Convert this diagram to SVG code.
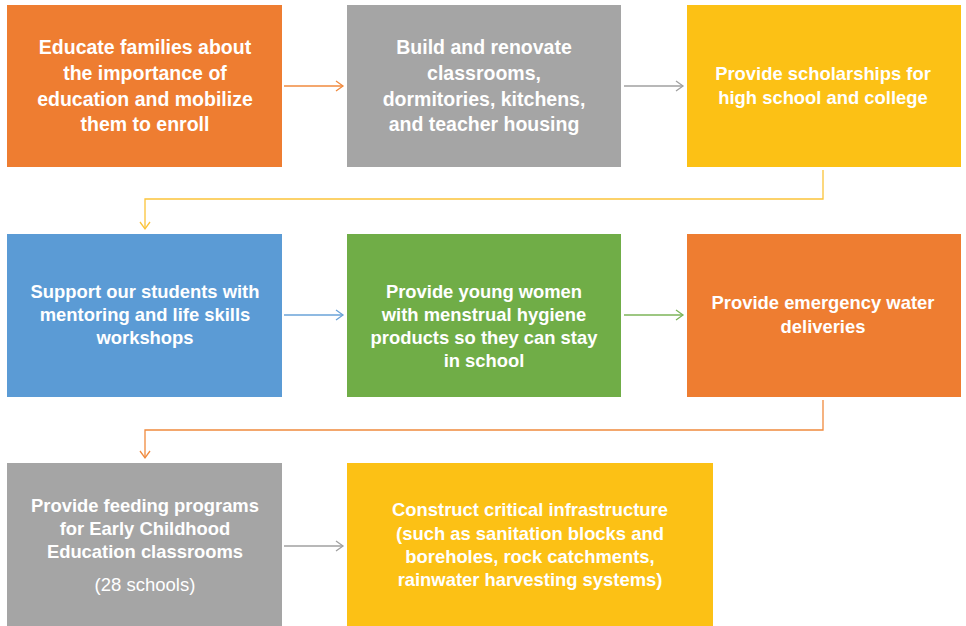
<svg xmlns="http://www.w3.org/2000/svg" width="966" height="626" viewBox="0 0 966 626">
<style>
.t{font-family:"Liberation Sans",Arial,sans-serif;font-weight:bold;fill:#fff;text-anchor:middle}
.r1{font-size:19.5px}
.r2{font-size:18.4px}
.n{font-family:"Liberation Sans",Arial,sans-serif;font-weight:normal;fill:#fff;text-anchor:middle;font-size:18.5px}
.c{fill:none;stroke-width:1.3}
</style>
<defs>
<marker id="ao" markerWidth="12" markerHeight="12" refX="10" refY="6" orient="auto" markerUnits="userSpaceOnUse"><path d="M3,1 L10,6 L3,11" fill="none" stroke="#F08A3E" stroke-width="1.3"/></marker>
<marker id="ag" markerWidth="12" markerHeight="12" refX="10" refY="6" orient="auto" markerUnits="userSpaceOnUse"><path d="M3,1 L10,6 L3,11" fill="none" stroke="#A0A0A0" stroke-width="1.3"/></marker>
<marker id="ay" markerWidth="12" markerHeight="12" refX="10" refY="6" orient="auto" markerUnits="userSpaceOnUse"><path d="M3,1 L10,6 L3,11" fill="none" stroke="#FBC43A" stroke-width="1.3"/></marker>
<marker id="ab" markerWidth="12" markerHeight="12" refX="10" refY="6" orient="auto" markerUnits="userSpaceOnUse"><path d="M3,1 L10,6 L3,11" fill="none" stroke="#6AA3D8" stroke-width="1.3"/></marker>
<marker id="agr" markerWidth="12" markerHeight="12" refX="10" refY="6" orient="auto" markerUnits="userSpaceOnUse"><path d="M3,1 L10,6 L3,11" fill="none" stroke="#7CB458" stroke-width="1.3"/></marker>
</defs>
<rect width="966" height="626" fill="#fff"/>
<g id="connectors">
<path class="c" d="M284,86 H343" stroke="#F08A3E" marker-end="url(#ao)"/>
<path class="c" d="M624,86 H683" stroke="#A0A0A0" marker-end="url(#ag)"/>
<path class="c" d="M823,170 V199 H145 V229" stroke="#FBC43A" marker-end="url(#ay)"/>
<path class="c" d="M284,315 H343" stroke="#6AA3D8" marker-end="url(#ab)"/>
<path class="c" d="M624,315 H683" stroke="#7CB458" marker-end="url(#agr)"/>
<path class="c" d="M823,400 V430 H145 V458" stroke="#F08A3E" marker-end="url(#ao)"/>
<path class="c" d="M284,546 H343" stroke="#A0A0A0" marker-end="url(#ag)"/>
</g>
<g id="n1">
<rect x="7" y="5" width="275" height="162" fill="#EE7D31"/>
<text class="t r1" x="145" y="54">Educate families about</text>
<text class="t r1" x="145" y="80">the importance of</text>
<text class="t r1" x="145" y="106">education and mobilize</text>
<text class="t r1" x="145" y="131">them to enroll</text>
</g>
<g id="n2">
<rect x="347" y="5" width="274" height="162" fill="#A5A5A5"/>
<text class="t r1" x="484" y="54">Build and renovate</text>
<text class="t r1" x="484" y="80">classrooms,</text>
<text class="t r1" x="484" y="106">dormitories, kitchens,</text>
<text class="t r1" x="484" y="131">and teacher housing</text>
</g>
<g id="n3">
<rect x="687" y="5" width="274" height="162" fill="#FCC115"/>
<text class="t r2" x="823" y="80">Provide scholarships for</text>
<text class="t r2" x="823" y="104">high school and college</text>
</g>
<g id="n4">
<rect x="7" y="234" width="275" height="163" fill="#5B9BD5"/>
<text class="t r2" x="145" y="298">Support our students with</text>
<text class="t r2" x="145" y="321">mentoring and life skills</text>
<text class="t r2" x="145" y="344">workshops</text>
</g>
<g id="n5">
<rect x="347" y="234" width="274" height="163" fill="#70AD47"/>
<text class="t r2" x="484" y="298">Provide young women</text>
<text class="t r2" x="484" y="321">with menstrual hygiene</text>
<text class="t r2" x="484" y="344">products so they can stay</text>
<text class="t r2" x="484" y="367">in school</text>
</g>
<g id="n6">
<rect x="687" y="234" width="274" height="163" fill="#EE7D31"/>
<text class="t r2" x="823" y="309">Provide emergency water</text>
<text class="t r2" x="823" y="333">deliveries</text>
</g>
<g id="n7">
<rect x="7" y="463" width="275" height="163" fill="#A5A5A5"/>
<text class="t r2" x="145" y="512">Provide feeding programs</text>
<text class="t r2" x="145" y="535">for Early Childhood</text>
<text class="t r2" x="145" y="558">Education classrooms</text>
<text class="n" x="145" y="591">(28 schools)</text>
</g>
<g id="n8">
<rect x="347" y="463" width="366" height="163" fill="#FCC115"/>
<text class="t r2" x="530" y="516">Construct critical infrastructure</text>
<text class="t r2" x="530" y="540">(such as sanitation blocks and</text>
<text class="t r2" x="530" y="563">boreholes, rock catchments,</text>
<text class="t r2" x="530" y="586">rainwater harvesting systems)</text>
</g>
</svg>
